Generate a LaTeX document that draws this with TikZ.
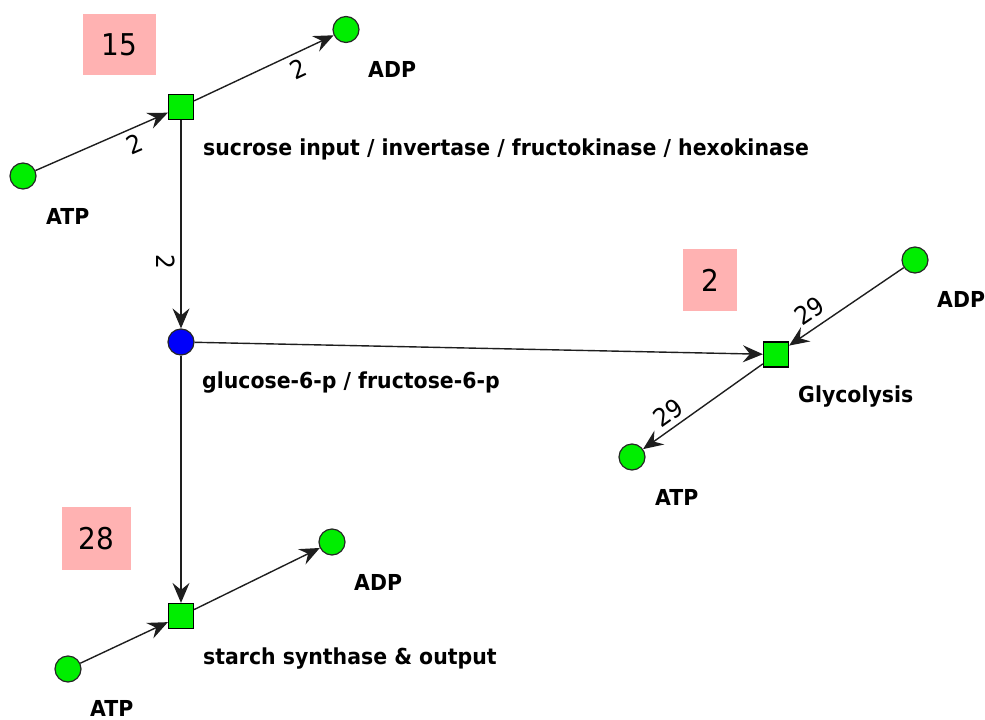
\documentclass[tikz,border=0pt]{standalone}
\usepackage{fontspec}
\setmainfont{DejaVu Sans}
\newfontfamily\lblfont[FakeStretch=0.93]{DejaVu Sans}
\usetikzlibrary{arrows.meta}
\definecolor{metgreen}{RGB}{0,238,0}
\definecolor{metblue}{RGB}{0,0,250}
\definecolor{fluxpink}{RGB}{255,178,178}
\definecolor{edgegray}{RGB}{30,30,30}
\tikzset{
  met/.style={circle, draw=black!85, line width=1.2pt, fill=metgreen, minimum size=26pt, inner sep=0pt},
  rxn/.style={rectangle, draw=black, line width=1.2pt, fill=metgreen, minimum size=25pt, inner sep=0pt},
  lbl/.style={font=\lblfont\bfseries\fontsize{22}{26}\selectfont, anchor=base west, inner sep=0pt},
  flux/.style={fill=fluxpink, text=black, font=\lblfont\fontsize{30}{36}\selectfont, inner sep=0pt},
  conn/.style={draw=edgegray, line width=1.4pt, -{Stealth[length=20pt,width=17pt,inset=7pt]}},
  elbl/.style={font=\lblfont\fontsize{25}{28}\selectfont, sloped, inner sep=1pt}
}
\begin{document}
\begin{tikzpicture}[x=1pt,y=-1pt]
\useasboundingbox (0,0) rectangle (985,720);
% flux boxes
\node[flux, minimum width=73pt, minimum height=61pt] (f1) at (119.5,44.5) {15};
\node[flux, minimum width=54pt, minimum height=62pt] (f2) at (710,280) {2};
\node[flux, minimum width=69pt, minimum height=63pt] (f3) at (96.5,538.5) {28};
% nodes
\node[rxn] (r1) at (181,107) {};
\node[met] (atp1) at (23,176) {};
\node[met] (adp1) at (346,29.5) {};
\node[met, fill=metblue] (g6p) at (181,342) {};
\node[rxn] (gly) at (776,354.5) {};
\node[met] (adp2) at (915,260) {};
\node[met] (atp2) at (632,457) {};
\node[rxn] (r3) at (181,616) {};
\node[met] (adp3) at (332,542) {};
\node[met] (atp3) at (68,669) {};
% labels
\node[lbl] (r1l) at (203,155) {sucrose input / invertase / fructokinase / hexokinase};
\node[lbl] (atp1l) at (46,224) {ATP};
\node[lbl] (adp1l) at (368,77.5) {ADP};
\node[lbl] (g6pl) at (202,388) {glucose-6-p / fructose-6-p};
\node[lbl] (glyl) at (798,402) {Glycolysis};
\node[lbl] (adp2l) at (937,307) {ADP};
\node[lbl] (atp2l) at (655,505) {ATP};
\node[lbl] (r3l) at (203,664) {starch synthase \& output};
\node[lbl] (adp3l) at (354,590) {ADP};
\node[lbl] (atp3l) at (90,716) {ATP};
% connectors
\draw[conn] (atp1) -- node[elbl, pos=0.70, below=4pt] {2} (r1);
\draw[conn] (r1) -- node[elbl, pos=0.70, below=4pt] {2} (adp1);
\draw[conn] (r1) -- node[elbl, allow upside down, pos=0.68, below=4pt] {2} (g6p);
\draw[conn] (g6p) -- (gly);
\draw[conn] (adp2) -- node[elbl, pos=0.74, above=6pt] {29} (gly);
\draw[conn] (gly) -- node[elbl, pos=0.72, above=4pt] {29} (atp2);
\draw[conn] (g6p) -- (r3);
\draw[conn] (atp3) -- (r3);
\draw[conn] (r3) -- (adp3);
\end{tikzpicture}
\end{document}
